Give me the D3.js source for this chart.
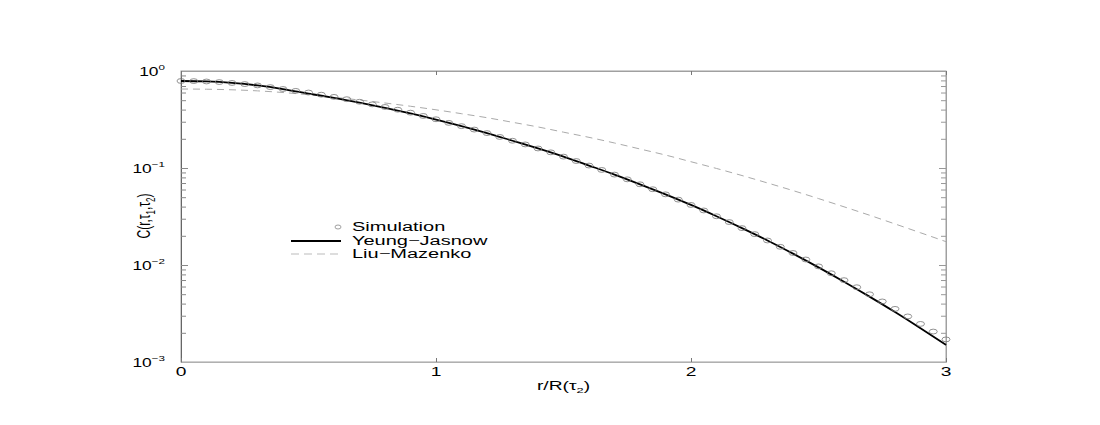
<!DOCTYPE html>
<html>
<head>
<meta charset="utf-8">
<script src="https://cdn.jsdelivr.net/npm/d3@7"></script>
<style>
  body { margin: 0; background: #fff; }
  text { font-family: "Liberation Sans", Arial, sans-serif; fill: #000; }
</style>
</head>
<body>
<div id="container"></div>
<script>
// simulation points, r step 0.05
var simR = d3.range(0, 61).map(function(i) { return +(i * 0.05).toFixed(2); });
var simC = [0.789, 0.787, 0.780, 0.769, 0.753, 0.733, 0.710, 0.682, 0.652, 0.624,
            0.600, 0.570, 0.541, 0.512, 0.482, 0.453, 0.426, 0.399, 0.372, 0.344,
            0.318, 0.292, 0.270, 0.249, 0.229, 0.209, 0.191, 0.175, 0.159, 0.145,
            0.131, 0.118, 0.106, 0.0955, 0.0855, 0.0764, 0.0679, 0.0604, 0.0535, 0.0472,
            0.0416, 0.0365, 0.0318, 0.0277, 0.0240, 0.0208, 0.0179, 0.0154, 0.0133, 0.0114,
            0.00968, 0.00822, 0.00698, 0.00590, 0.00499, 0.00421, 0.00353, 0.00295, 0.00247, 0.00206,
            0.00171];

// theory curves, r step 0.1
var curveR = d3.range(0, 31).map(function(i) { return +(i * 0.1).toFixed(1); });
var yeungJasnow = [0.789, 0.780, 0.753, 0.710, 0.652, 0.586, 0.528, 0.471, 0.416, 0.365,
                   0.316, 0.270, 0.229, 0.191, 0.159, 0.131, 0.106, 0.0855, 0.0679, 0.0535,
                   0.0416, 0.0318, 0.0240, 0.0179, 0.0131, 0.00946, 0.00673, 0.00472, 0.00327, 0.00223,
                   0.00150];
var liuMazenko = [0.652, 0.649, 0.640, 0.624, 0.600, 0.569, 0.536, 0.502, 0.468, 0.433,
                  0.398, 0.363, 0.330, 0.296, 0.265, 0.234, 0.207, 0.181, 0.157, 0.136,
                  0.116, 0.0989, 0.0836, 0.0701, 0.0585, 0.0484, 0.0398, 0.0326, 0.0265, 0.0215,
                  0.0174];

var xTicks = [0, 1, 2, 3];
var yDecades = [1, 0.1, 0.01, 0.001];
var yExp = ["0", "\u22121", "\u22122", "\u22123"];
var legendNames = ["Simulation", "Yeung\u2212Jasnow", "Liu\u2212Mazenko"];

// the picture is stretched sideways, so text is too
var stretch = 1.6;

var W = 1100, H = 425;
var pLeft = 181, pRight = 946, pTop = 71, pBottom = 362;

var svg = d3.select("#container").append("svg")
    .attr("width", W)
    .attr("height", H);

var x = d3.scaleLinear().domain([0, 3]).range([pLeft, pRight]);
var y = d3.scaleLog().domain([0.001, 1]).range([pBottom, pTop]);

// frame
svg.append("rect")
    .attr("x", pLeft).attr("y", pTop)
    .attr("width", pRight - pLeft).attr("height", pBottom - pTop)
    .attr("fill", "none")
    .attr("stroke", "#a0a0a0")
    .attr("stroke-width", 1);

function isDecade(d) {
    var l = Math.log10(d);
    return Math.abs(l - Math.round(l)) < 1e-6;
}

// left axis, ticks pointing inside
var yAxisL = svg.append("g")
    .attr("transform", "translate(" + pLeft + ",0)")
    .call(d3.axisLeft(y).tickSizeInner(-5).tickSizeOuter(0).tickFormat(""));
yAxisL.select(".domain").attr("stroke", "#666");
yAxisL.selectAll(".tick line")
    .attr("stroke", "#888")
    .attr("x2", function(d) { return isDecade(d) ? 7 : 5; });

// right axis
var yAxisR = svg.append("g")
    .attr("transform", "translate(" + pRight + ",0)")
    .call(d3.axisRight(y).tickSizeInner(-5).tickSizeOuter(0).tickFormat(""));
yAxisR.select(".domain").attr("stroke", "#a0a0a0");
yAxisR.selectAll(".tick line")
    .attr("stroke", "#999")
    .attr("x2", function(d) { return isDecade(d) ? -7 : -5; });

// bottom axis
var xAxisB = svg.append("g")
    .attr("transform", "translate(0," + pBottom + ")")
    .call(d3.axisBottom(x).tickValues(xTicks).tickSizeInner(-4).tickSizeOuter(0).tickFormat(""));
xAxisB.select(".domain").attr("stroke", "#b0b0b0");
xAxisB.selectAll(".tick line").attr("stroke", "#777");

// top axis
var xAxisT = svg.append("g")
    .attr("transform", "translate(0," + pTop + ")")
    .call(d3.axisTop(x).tickValues(xTicks).tickSizeInner(-4).tickSizeOuter(0).tickFormat(""));
xAxisT.select(".domain").attr("stroke", "#a0a0a0");
xAxisT.selectAll(".tick line").attr("stroke", "#777");

// x tick labels
svg.selectAll(".xlab")
    .data(xTicks)
  .enter().append("text")
    .attr("class", "xlab")
    .attr("transform", function(d) { return "translate(" + x(d) + "," + (pBottom + 14) + ") scale(" + stretch + ",1)"; })
    .attr("text-anchor", "middle")
    .style("font-size", "12px")
    .text(function(d) { return d; });

// y tick labels 10^n
var ylab = svg.selectAll(".ylab")
    .data(yDecades)
  .enter().append("text")
    .attr("class", "ylab")
    .attr("transform", function(d) { return "translate(165," + (y(d) + 5) + ") scale(1.45,1)"; })
    .attr("text-anchor", "end")
    .style("font-size", "12px");
ylab.append("tspan").text("10");
ylab.append("tspan")
    .attr("dy", -6)
    .style("font-size", "8px")
    .text(function(d, i) { return yExp[i]; });

// axis titles
var xt = svg.append("text")
    .attr("transform", "translate(" + ((pLeft + pRight) / 2) + ",390) scale(" + stretch + ",1)")
    .attr("text-anchor", "middle")
    .style("font-size", "12px");
xt.append("tspan").text("r/R(\u03c4");
xt.append("tspan").attr("dy", 3).style("font-size", "8px").text("2");
xt.append("tspan").attr("dy", -3).text(")");

var yt = svg.append("text")
    .attr("transform", "translate(150,216) rotate(-90) scale(1," + stretch + ")")
    .attr("text-anchor", "middle")
    .style("font-size", "12px");
yt.append("tspan").text("C(r,\u03c4");
yt.append("tspan").attr("dy", 3).style("font-size", "8px").text("1");
yt.append("tspan").attr("dy", -3).text(",\u03c4");
yt.append("tspan").attr("dy", 3).style("font-size", "8px").text("2");
yt.append("tspan").attr("dy", -3).text(")");

// lines
var lmData = curveR.map(function(r, i) { return { r: r, c: liuMazenko[i] }; });
var yjData = curveR.map(function(r, i) { return { r: r, c: yeungJasnow[i] }; });
var simData = simR.map(function(r, i) { return { r: r, c: simC[i] }; });

var line = d3.line()
    .curve(d3.curveMonotoneX)
    .x(function(d) { return x(d.r); })
    .y(function(d) { return y(d.c); });

svg.append("path")
    .datum(lmData)
    .attr("fill", "none")
    .attr("stroke", "#aaa")
    .attr("stroke-width", 1)
    .attr("stroke-dasharray", "7,5")
    .attr("d", line);

svg.append("path")
    .datum(yjData)
    .attr("fill", "none")
    .attr("stroke", "#000")
    .attr("stroke-width", 1.8)
    .attr("d", line);

svg.selectAll(".sim")
    .data(simData)
  .enter().append("ellipse")
    .attr("class", "sim")
    .attr("cx", function(d) { return x(d.r); })
    .attr("cy", function(d) { return y(d.c); })
    .attr("rx", 4)
    .attr("ry", 2.4)
    .attr("fill", "none")
    .attr("stroke", "#777")
    .attr("stroke-width", 0.8);

// legend
var lg = svg.append("g");
lg.append("ellipse")
    .attr("cx", 338).attr("cy", 227)
    .attr("rx", 3).attr("ry", 2)
    .attr("fill", "none").attr("stroke", "#888").attr("stroke-width", 0.8);
lg.append("line")
    .attr("x1", 291).attr("x2", 341).attr("y1", 241).attr("y2", 241)
    .attr("stroke", "#000").attr("stroke-width", 1.8);
lg.append("line")
    .attr("x1", 291).attr("x2", 341).attr("y1", 254).attr("y2", 254)
    .attr("stroke", "#bbb").attr("stroke-width", 1)
    .attr("stroke-dasharray", "8,5");
lg.selectAll("text")
    .data(legendNames)
  .enter().append("text")
    .attr("transform", function(d, i) { return "translate(352," + (231 + i * 13.5) + ") scale(" + stretch + ",1)"; })
    .style("font-size", "12.5px")
    .text(function(d) { return d; });
</script>
</body>
</html>
